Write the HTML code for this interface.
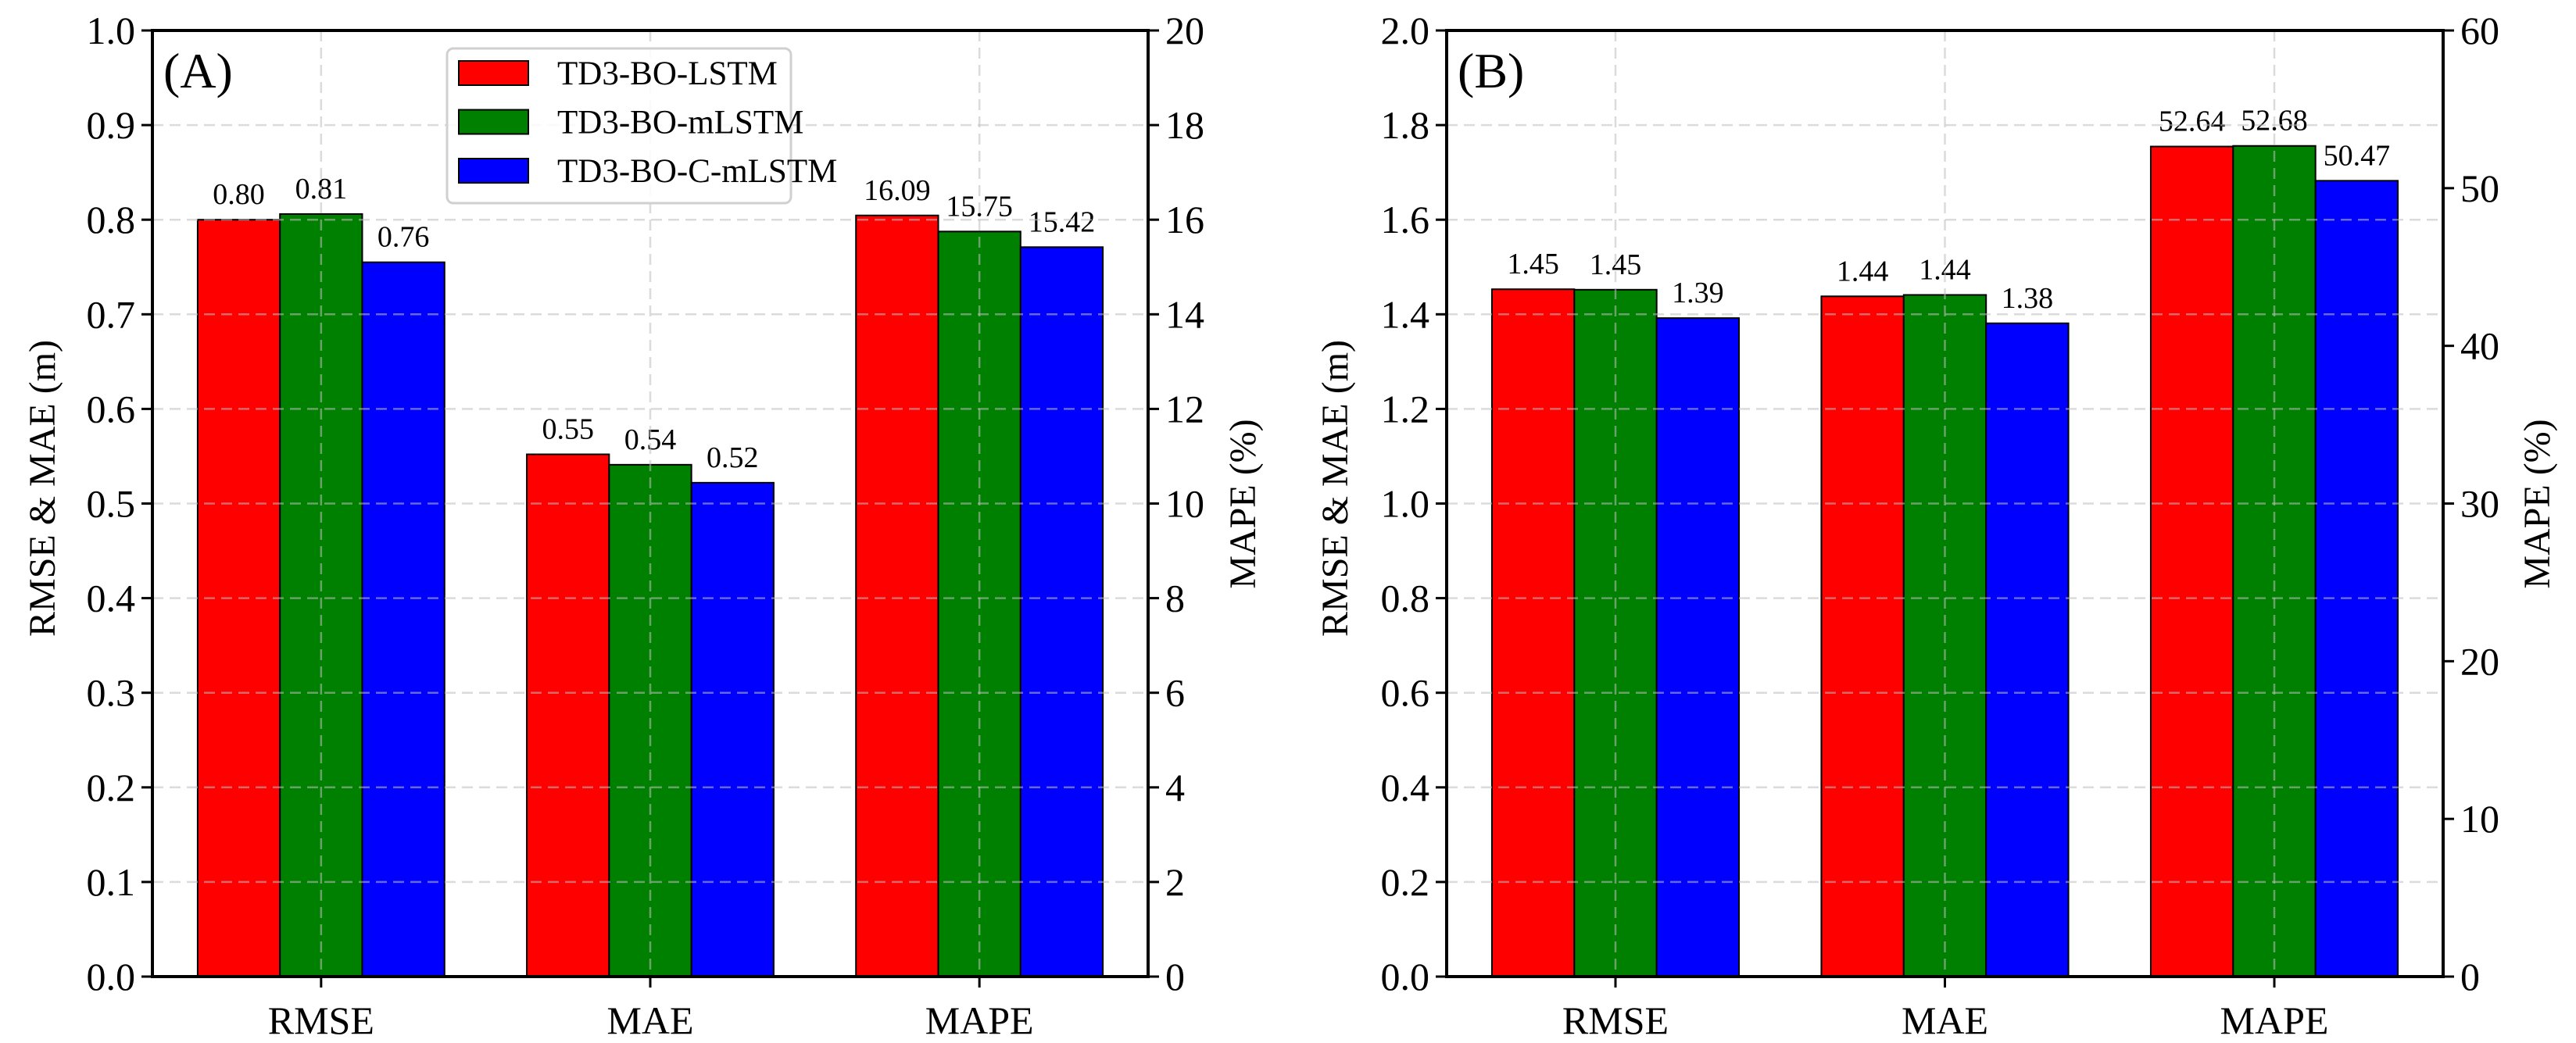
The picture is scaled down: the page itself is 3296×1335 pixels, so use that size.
<!DOCTYPE html>
<html><head><meta charset="utf-8"><style>
html,body{margin:0;padding:0;background:#fff;}
svg{display:block;font-family:"Liberation Serif",serif;}
</style></head><body>
<svg id="chart" width="3296" height="1335" viewBox="0 0 3296 1335" xmlns="http://www.w3.org/2000/svg"></svg>
<script>
const categories = ["RMSE","MAE","MAPE"];
const seriesNames = ["TD3-BO-LSTM","TD3-BO-mLSTM","TD3-BO-C-mLSTM"];
const colors = ["#ff0000","#008000","#0000ff"];
const panelAValues = [[0.800,0.552,16.09],[0.806,0.541,15.75],[0.755,0.522,15.42]];
const panelALabels = [["0.80","0.55","16.09"],["0.81","0.54","15.75"],["0.76","0.52","15.42"]];
const panelBValues = [[1.453,1.438,52.64],[1.452,1.441,52.68],[1.392,1.381,50.47]];
const panelBLabels = [["1.45","1.44","52.64"],["1.45","1.44","52.68"],["1.39","1.38","50.47"]];
const panelALeftTicks = [0,0.1,0.2,0.3,0.4,0.5,0.6,0.7,0.8,0.9,1.0];
const panelARightTicks = [0,2,4,6,8,10,12,14,16,18,20];
const panelBLeftTicks = [0,0.2,0.4,0.6,0.8,1.0,1.2,1.4,1.6,1.8,2.0];
const panelBRightTicks = [0,10,20,30,40,50,60];

const svg = document.getElementById('chart');
const NS = "http://www.w3.org/2000/svg";
function mk(tag, attrs, parent){
  const e = document.createElementNS(NS, tag);
  for (const k in attrs) e.setAttribute(k, attrs[k]);
  (parent||svg).appendChild(e);
  return e;
}
function txt(s, attrs, parent){ const e = mk('text', attrs, parent); e.textContent = s; return e; }

function panel(opt){
  const g = mk('g', {});
  
  
  const L = opt.left, R = opt.right, T = 39, B = 1250;
  const leftMax = opt.leftTicks[opt.leftTicks.length-1];
  const rightMax = opt.rightTicks[opt.rightTicks.length-1];
  const yL = v => B - v/leftMax*(B-T);
  const yR = v => B - v/rightMax*(B-T);
  const W = R - L;
  const bw = 0.25, span = 2 + 3*bw, u = W/(span*1.1);
  const x0 = L + 0.05*span*u + 1.5*bw*u;
  const xC = i => x0 + i*u;
  // bars
  for (let s=0; s<3; s++){
    for (let c=0; c<3; c++){
      const v = opt.values[s][c];
      const y = c===2 ? yR(v) : yL(v);
      const bx = xC(c) + (s-1.5)*bw*u;
      const r = mk('rect', {x:bx, y:y, width:bw*u, height:B-y, fill:colors[s], stroke:'#000', 'stroke-width':2}, g);
      
      
      const t = txt(opt.labels[s][c], {x:bx + bw*u/2, y:y-20, 'font-size':38, 'text-anchor':'middle', fill:'#000'}, g);
      
      
    }
  }
  // grid
  opt.leftTicks.forEach(v => {
    mk('line', {x1:L, x2:R, y1:yL(v), y2:yL(v), stroke:'rgba(190,190,190,0.55)', 'stroke-width':2.5, 'stroke-dasharray':'14 8'}, g);
  });
  for (let c=0;c<3;c++) mk('line', {x1:xC(c), x2:xC(c), y1:T, y2:B, stroke:'rgba(190,190,190,0.55)', 'stroke-width':2.5, 'stroke-dasharray':'14 8'}, g);
  // spines
  mk('rect', {x:L, y:T, width:W, height:B-T, fill:'none', stroke:'#000', 'stroke-width':4}, g);
  // left ticks
  opt.leftTicks.forEach(v => {
    mk('line', {x1:L-14, x2:L, y1:yL(v), y2:yL(v), stroke:'#000', 'stroke-width':3}, g);
    const t = txt(v.toFixed(1), {x:L-22, y:yL(v)+17, 'font-size':50, 'text-anchor':'end'}, g);
    
    
  });
  opt.rightTicks.forEach(v => {
    mk('line', {x1:R, x2:R+14, y1:yR(v), y2:yR(v), stroke:'#000', 'stroke-width':3}, g);
    const t = txt(String(v), {x:R+22, y:yR(v)+17, 'font-size':50, 'text-anchor':'start'}, g);
    
    
  });
  categories.forEach((c,i) => {
    mk('line', {x1:xC(i), x2:xC(i), y1:B, y2:B+14, stroke:'#000', 'stroke-width':3}, g);
    const t = txt(c, {x:xC(i), y:B+73, 'font-size':50, 'text-anchor':'middle'}, g);
    
    
  });
  const yl = txt('RMSE & MAE (m)', {x:0, y:0, 'font-size':48, 'text-anchor':'middle', transform:`translate(${opt.ylabX},625) rotate(-90)`}, g);
  
  
  const yr = txt('MAPE (%)', {x:0, y:0, 'font-size':48, 'text-anchor':'middle', transform:`translate(${opt.yrabX},645) rotate(-90)`}, g);
  
  
  const pl = txt(opt.tag, {x:L+14, y:112, 'font-size':64}, g);
  
  
  return g;
}

panel({name:'panel-a', left:195, right:1469, values:panelAValues, labels:panelALabels, leftTicks:panelALeftTicks, rightTicks:panelARightTicks, ylabX:70, yrabX:1606, tag:'(A)'});
panel({name:'panel-b', left:1851, right:3126, values:panelBValues, labels:panelBLabels, leftTicks:panelBLeftTicks, rightTicks:panelBRightTicks, ylabX:1724, yrabX:3262, tag:'(B)'});

// legend
const lg = mk('g', {});


mk('rect', {x:572, y:62, width:440, height:198, rx:8, fill:'rgba(255,255,255,0.85)', stroke:'#d0d0d0', 'stroke-width':3}, lg);
seriesNames.forEach((n,i) => {
  const cy = 93 + i*62.5;
  const p = mk('rect', {x:587, y:cy-15, width:89, height:31, fill:colors[i], stroke:'#000', 'stroke-width':2}, lg);
  
  
  const t = txt(n, {x:713, y:cy+15, 'font-size':43}, lg);
  
  
});
</script>
</body></html>
